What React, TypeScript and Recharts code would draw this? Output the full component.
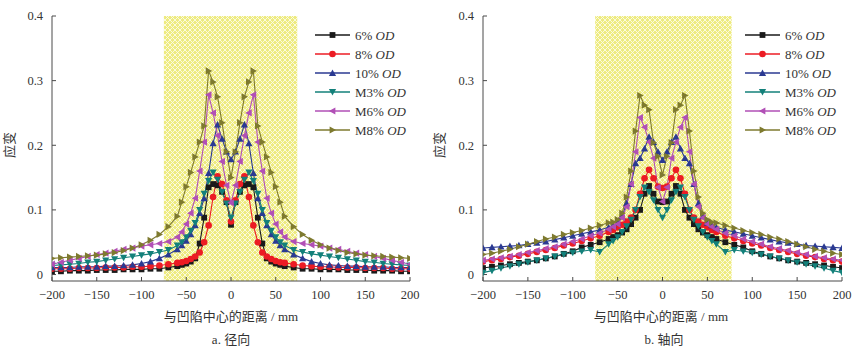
import React from 'react';
import { LineChart, Line, XAxis, YAxis, ReferenceArea } from 'recharts';

// distance from dent centre (mm)
const X_VALUES = [
  -200, -190, -180, -170, -160, -150, -140, -130, -120, -110, -100, -90, -80, -70, -60,
  -55, -50, -45, -40, -35, -30, -25, -20, -15, -10, -5, 0, 5, 10, 15, 20, 25, 30, 35, 40, 45, 50, 55,
  60, 70, 80, 90, 100, 110, 120, 130, 140, 150, 160, 170, 180, 190, 200,
];

const SERIES_NAMES = ['6%', '8%', '10%', 'M3%', 'M6%', 'M8%'];
const COLORS = ['#1a1a1a', '#ec1c24', '#2b3a92', '#13807a', '#b14fb6', '#7e7a2f'];
const SHAPES = ['square', 'circle', 'up', 'down', 'left', 'right'];

const X_TICKS = [-200, -150, -100, -50, 0, 50, 100, 150, 200];
const Y_TICKS = [0, 0.1, 0.2, 0.3, 0.4];

// a. radial
const RADIAL_6 = [
  0.005, 0.005, 0.006, 0.006, 0.006, 0.007, 0.007, 0.007, 0.008, 0.008, 0.008, 0.009, 0.009, 0.011, 0.013,
  0.015, 0.017, 0.020, 0.025, 0.048, 0.088, 0.135, 0.140, 0.138, 0.128, 0.112, 0.077, 0.112, 0.128, 0.138, 0.140, 0.135, 0.088, 0.048, 0.025, 0.020, 0.017, 0.015,
  0.013, 0.011, 0.009, 0.009, 0.008, 0.008, 0.008, 0.007, 0.007, 0.007, 0.006, 0.006, 0.006, 0.005, 0.005,
];
const RADIAL_8 = [
  0.009, 0.009, 0.009, 0.010, 0.010, 0.010, 0.011, 0.011, 0.011, 0.012, 0.012, 0.013, 0.014, 0.016, 0.018,
  0.019, 0.021, 0.024, 0.028, 0.034, 0.050, 0.076, 0.120, 0.152, 0.140, 0.115, 0.082, 0.115, 0.140, 0.152, 0.120, 0.076, 0.050, 0.034, 0.028, 0.024, 0.021, 0.019,
  0.018, 0.016, 0.014, 0.013, 0.012, 0.012, 0.011, 0.011, 0.011, 0.010, 0.010, 0.010, 0.009, 0.009, 0.009,
];
const RADIAL_10 = [
  0.011, 0.011, 0.011, 0.012, 0.012, 0.012, 0.013, 0.013, 0.014, 0.015, 0.017, 0.020, 0.025, 0.031, 0.039,
  0.045, 0.052, 0.062, 0.076, 0.095, 0.118, 0.157, 0.203, 0.232, 0.210, 0.190, 0.178, 0.190, 0.210, 0.232, 0.203, 0.157, 0.118, 0.095, 0.076, 0.062, 0.052, 0.045,
  0.039, 0.031, 0.025, 0.020, 0.017, 0.015, 0.014, 0.013, 0.013, 0.012, 0.012, 0.012, 0.011, 0.011, 0.011,
];
const RADIAL_M3 = [
  0.014, 0.015, 0.016, 0.017, 0.019, 0.020, 0.022, 0.024, 0.026, 0.028, 0.030, 0.032, 0.035, 0.038, 0.045,
  0.050, 0.058, 0.068, 0.080, 0.100, 0.125, 0.145, 0.158, 0.147, 0.128, 0.110, 0.088, 0.110, 0.128, 0.147, 0.158, 0.145, 0.125, 0.100, 0.080, 0.068, 0.058, 0.050,
  0.045, 0.038, 0.035, 0.032, 0.030, 0.028, 0.026, 0.024, 0.022, 0.020, 0.019, 0.017, 0.016, 0.015, 0.014,
];
const RADIAL_M6 = [
  0.016, 0.019, 0.022, 0.025, 0.028, 0.031, 0.033, 0.036, 0.039, 0.041, 0.044, 0.046, 0.048, 0.051, 0.058,
  0.066, 0.078, 0.095, 0.118, 0.160, 0.205, 0.278, 0.250, 0.215, 0.175, 0.138, 0.111, 0.138, 0.175, 0.215, 0.250, 0.278, 0.205, 0.160, 0.118, 0.095, 0.078, 0.066,
  0.058, 0.051, 0.048, 0.046, 0.044, 0.041, 0.039, 0.036, 0.033, 0.031, 0.028, 0.025, 0.022, 0.019, 0.016,
];
const RADIAL_M8 = [
  0.025, 0.026, 0.027, 0.028, 0.029, 0.030, 0.032, 0.034, 0.037, 0.041, 0.046, 0.053, 0.062, 0.074, 0.090,
  0.112, 0.136, 0.158, 0.182, 0.205, 0.230, 0.315, 0.298, 0.275, 0.235, 0.190, 0.150, 0.190, 0.235, 0.275, 0.298, 0.315, 0.230, 0.205, 0.182, 0.158, 0.136, 0.112,
  0.090, 0.074, 0.062, 0.053, 0.046, 0.041, 0.037, 0.034, 0.032, 0.030, 0.029, 0.028, 0.027, 0.026, 0.025,
];

// b. axial
const AXIAL_6 = [
  0.010, 0.012, 0.014, 0.016, 0.018, 0.020, 0.022, 0.025, 0.028, 0.032, 0.036, 0.042, 0.046, 0.050, 0.055,
  0.058, 0.061, 0.065, 0.070, 0.078, 0.088, 0.100, 0.125, 0.137, 0.125, 0.113, 0.112, 0.113, 0.125, 0.137, 0.125, 0.100, 0.088, 0.078, 0.070, 0.065, 0.061, 0.058,
  0.055, 0.050, 0.046, 0.042, 0.036, 0.032, 0.028, 0.025, 0.022, 0.020, 0.018, 0.016, 0.014, 0.012, 0.010,
];
const AXIAL_8 = [
  0.020, 0.022, 0.024, 0.027, 0.029, 0.032, 0.035, 0.038, 0.041, 0.045, 0.048, 0.052, 0.056, 0.060, 0.066,
  0.069, 0.073, 0.077, 0.082, 0.088, 0.100, 0.125, 0.149, 0.162, 0.149, 0.136, 0.134, 0.136, 0.149, 0.162, 0.149, 0.125, 0.100, 0.088, 0.082, 0.077, 0.073, 0.069,
  0.066, 0.060, 0.056, 0.052, 0.048, 0.045, 0.041, 0.038, 0.035, 0.032, 0.029, 0.027, 0.024, 0.022, 0.020,
];
const AXIAL_10 = [
  0.041, 0.042, 0.043, 0.044, 0.045, 0.047, 0.049, 0.051, 0.054, 0.057, 0.060, 0.063, 0.066, 0.069, 0.073,
  0.076, 0.080, 0.090, 0.110, 0.140, 0.172, 0.180, 0.195, 0.213, 0.205, 0.190, 0.177, 0.190, 0.205, 0.213, 0.195, 0.180, 0.172, 0.140, 0.110, 0.090, 0.080, 0.076,
  0.073, 0.069, 0.066, 0.063, 0.060, 0.057, 0.054, 0.051, 0.049, 0.047, 0.045, 0.044, 0.043, 0.042, 0.041,
];
const AXIAL_M3 = [
  0.003, 0.006, 0.010, 0.013, 0.016, 0.019, 0.022, 0.025, 0.028, 0.031, 0.034, 0.036, 0.038, 0.035, 0.047,
  0.052, 0.058, 0.066, 0.075, 0.085, 0.100, 0.120, 0.135, 0.128, 0.115, 0.100, 0.088, 0.100, 0.115, 0.128, 0.135, 0.120, 0.100, 0.085, 0.075, 0.066, 0.058, 0.052,
  0.047, 0.035, 0.038, 0.036, 0.034, 0.031, 0.028, 0.025, 0.022, 0.019, 0.016, 0.013, 0.010, 0.006, 0.003,
];
const AXIAL_M6 = [
  0.022, 0.024, 0.026, 0.028, 0.031, 0.034, 0.037, 0.040, 0.043, 0.047, 0.051, 0.055, 0.060, 0.064, 0.070,
  0.074, 0.078, 0.088, 0.105, 0.140, 0.190, 0.243, 0.228, 0.205, 0.180, 0.135, 0.113, 0.135, 0.180, 0.205, 0.228, 0.243, 0.190, 0.140, 0.105, 0.088, 0.078, 0.074,
  0.070, 0.064, 0.060, 0.055, 0.051, 0.047, 0.043, 0.040, 0.037, 0.034, 0.031, 0.028, 0.026, 0.024, 0.022,
];
const AXIAL_M8 = [
  0.031, 0.033, 0.036, 0.039, 0.043, 0.047, 0.051, 0.055, 0.058, 0.062, 0.065, 0.068, 0.072, 0.076, 0.080,
  0.081, 0.085, 0.095, 0.120, 0.160, 0.222, 0.277, 0.262, 0.255, 0.204, 0.183, 0.154, 0.183, 0.204, 0.255, 0.262, 0.277, 0.222, 0.160, 0.120, 0.095, 0.085, 0.081,
  0.080, 0.076, 0.072, 0.068, 0.065, 0.062, 0.058, 0.055, 0.051, 0.047, 0.043, 0.039, 0.036, 0.033, 0.031,
];

const RADIAL_SERIES = [RADIAL_6, RADIAL_8, RADIAL_10, RADIAL_M3, RADIAL_M6, RADIAL_M8];
const AXIAL_SERIES = [AXIAL_6, AXIAL_8, AXIAL_10, AXIAL_M3, AXIAL_M6, AXIAL_M8];

const SERIF = "'Liberation Serif', 'Times New Roman', serif";
const CJK = "'Liberation Serif', 'Noto Sans CJK SC', serif";
const AXIS_COLOR = '#4a4a4a';
const TEXT_COLOR = '#333';

function Marker({ cx, cy, shape, color }: { cx: number; cy: number; shape: string; color: string }) {
  const s = 3.6;
  switch (shape) {
    case 'square':
      return <rect x={cx - 2.9} y={cy - 2.9} width={5.8} height={5.8} fill={color} />;
    case 'circle':
      return <circle cx={cx} cy={cy} r={3.3} fill={color} />;
    case 'up':
      return <polygon points={`${cx},${cy - s} ${cx + s},${cy + s * 0.8} ${cx - s},${cy + s * 0.8}`} fill={color} />;
    case 'down':
      return <polygon points={`${cx},${cy + s} ${cx + s},${cy - s * 0.8} ${cx - s},${cy - s * 0.8}`} fill={color} />;
    case 'left':
      return <polygon points={`${cx - s},${cy} ${cx + s * 0.8},${cy - s} ${cx + s * 0.8},${cy + s}`} fill={color} />;
    default:
      return <polygon points={`${cx + s},${cy} ${cx - s * 0.8},${cy - s} ${cx - s * 0.8},${cy + s}`} fill={color} />;
  }
}

const fmtX = (v: number) => (v < 0 ? `\u2212${-v}` : `${v}`);
const fmtY = (v: number) => (v === 0 ? '0' : v.toFixed(1));

function Panel({ series, width, yAxisWidth, hatchX2 }: { series: number[][]; width: number; yAxisWidth: number; hatchX2: number }) {
  const data = X_VALUES.map((x, i) => {
    const row: Record<string, number> = { x };
    series.forEach((s, k) => {
      row[`s${k}`] = s[i];
    });
    return row;
  });
  return (
    <LineChart width={width} height={320} data={data} margin={{ top: 16, right: 11, bottom: 20, left: 0 }}>
      <XAxis
        dataKey="x"
        type="number"
        domain={[-200, 200]}
        ticks={X_TICKS}
        tickFormatter={fmtX}
        allowDataOverflow
        height={19}
        tickSize={-4}
        tickMargin={13}
        stroke={AXIS_COLOR}
        tickLine={{ stroke: AXIS_COLOR }}
        tick={{ fontSize: 12.5, fill: TEXT_COLOR, fontFamily: SERIF }}
      />
      <YAxis
        type="number"
        domain={[-0.01, 0.4]}
        ticks={Y_TICKS}
        tickFormatter={fmtY}
        allowDataOverflow
        width={yAxisWidth}
        tickSize={-4}
        tickMargin={13}
        stroke={AXIS_COLOR}
        tickLine={{ stroke: AXIS_COLOR }}
        tick={{ fontSize: 12.5, fill: TEXT_COLOR, fontFamily: SERIF }}
      />
      <ReferenceArea x1={-75} x2={hatchX2} y1={-0.01} y2={0.4} fill="url(#hatchYellow)" fillOpacity={1} stroke="none" />
      {series.map((_, k) => (
        <Line
          key={k}
          dataKey={`s${k}`}
          type="linear"
          stroke={COLORS[k]}
          strokeWidth={1.1}
          isAnimationActive={false}
          dot={(p: any) =>
            p.cx == null || p.cy == null ? <g key={p.index} /> : (
              <Marker key={p.index} cx={p.cx} cy={p.cy} shape={SHAPES[k]} color={COLORS[k]} />
            )
          }
          activeDot={false}
        />
      ))}
    </LineChart>
  );
}

function LegendBox({ left, top }: { left: number; top: number }) {
  return (
    <svg width={110} height={120} style={{ position: 'absolute', left, top }}>
      {SERIES_NAMES.map((name, k) => {
        const y = 13 + k * 19;
        return (
          <g key={k}>
            <line x1={3} x2={38} y1={y} y2={y} stroke={COLORS[k]} strokeWidth={1.3} />
            <Marker cx={20.5} cy={y} shape={SHAPES[k]} color={COLORS[k]} />
            <text x={43} y={y + 4.5} fontSize={13} fontFamily={SERIF} fill={TEXT_COLOR}>
              {name}
              <tspan fontStyle="italic">{' OD'}</tspan>
            </text>
          </g>
        );
      })}
    </svg>
  );
}

function TextDiv({ text, cx, cy, w = 200, rotate = false }: { text: string; cx: number; cy: number; w?: number; rotate?: boolean }) {
  return (
    <div
      style={{
        position: 'absolute',
        left: cx - w / 2,
        top: cy - 9,
        width: w,
        height: 18,
        lineHeight: '18px',
        textAlign: 'center',
        fontFamily: CJK,
        fontSize: 13,
        color: TEXT_COLOR,
        transform: rotate ? 'rotate(-90deg)' : undefined,
        whiteSpace: 'nowrap',
      }}
    >
      {text}
    </div>
  );
}

export default function App() {
  return (
    <div style={{ position: 'absolute', left: 0, top: 0, width: 853, height: 349, background: '#fff', overflow: 'hidden' }}>
      <svg width={0} height={0} style={{ position: 'absolute' }}>
        <defs>
          <pattern id="hatchYellow" patternUnits="userSpaceOnUse" width={5} height={5}>
            <rect x={0} y={0} width={5} height={5} fill="#eeeb80" />
            <path d="M0,0 L5,5 M5,0 L0,5" stroke="#fcfce6" strokeWidth={0.9} />
          </pattern>
        </defs>
      </svg>
      <div style={{ position: 'absolute', left: 0, top: 0 }}>
        <Panel series={RADIAL_SERIES} width={421} yAxisWidth={52} hatchX2={74} />
      </div>
      <div style={{ position: 'absolute', left: 420, top: 0 }}>
        <Panel series={AXIAL_SERIES} width={433} yAxisWidth={63} hatchX2={77} />
      </div>
      <LegendBox left={312} top={22} />
      <LegendBox left={742} top={22} />
      <TextDiv text="应变" cx={10} cy={145} w={40} rotate />
      <TextDiv text="应变" cx={440} cy={145} w={40} rotate />
      <TextDiv text="与凹陷中心的距离 / mm" cx={231} cy={317} />
      <TextDiv text="与凹陷中心的距离 / mm" cx={661} cy={317} />
      <TextDiv text="a. 径向" cx={231} cy={340} />
      <TextDiv text="b. 轴向" cx={664} cy={340} />
    </div>
  );
}
